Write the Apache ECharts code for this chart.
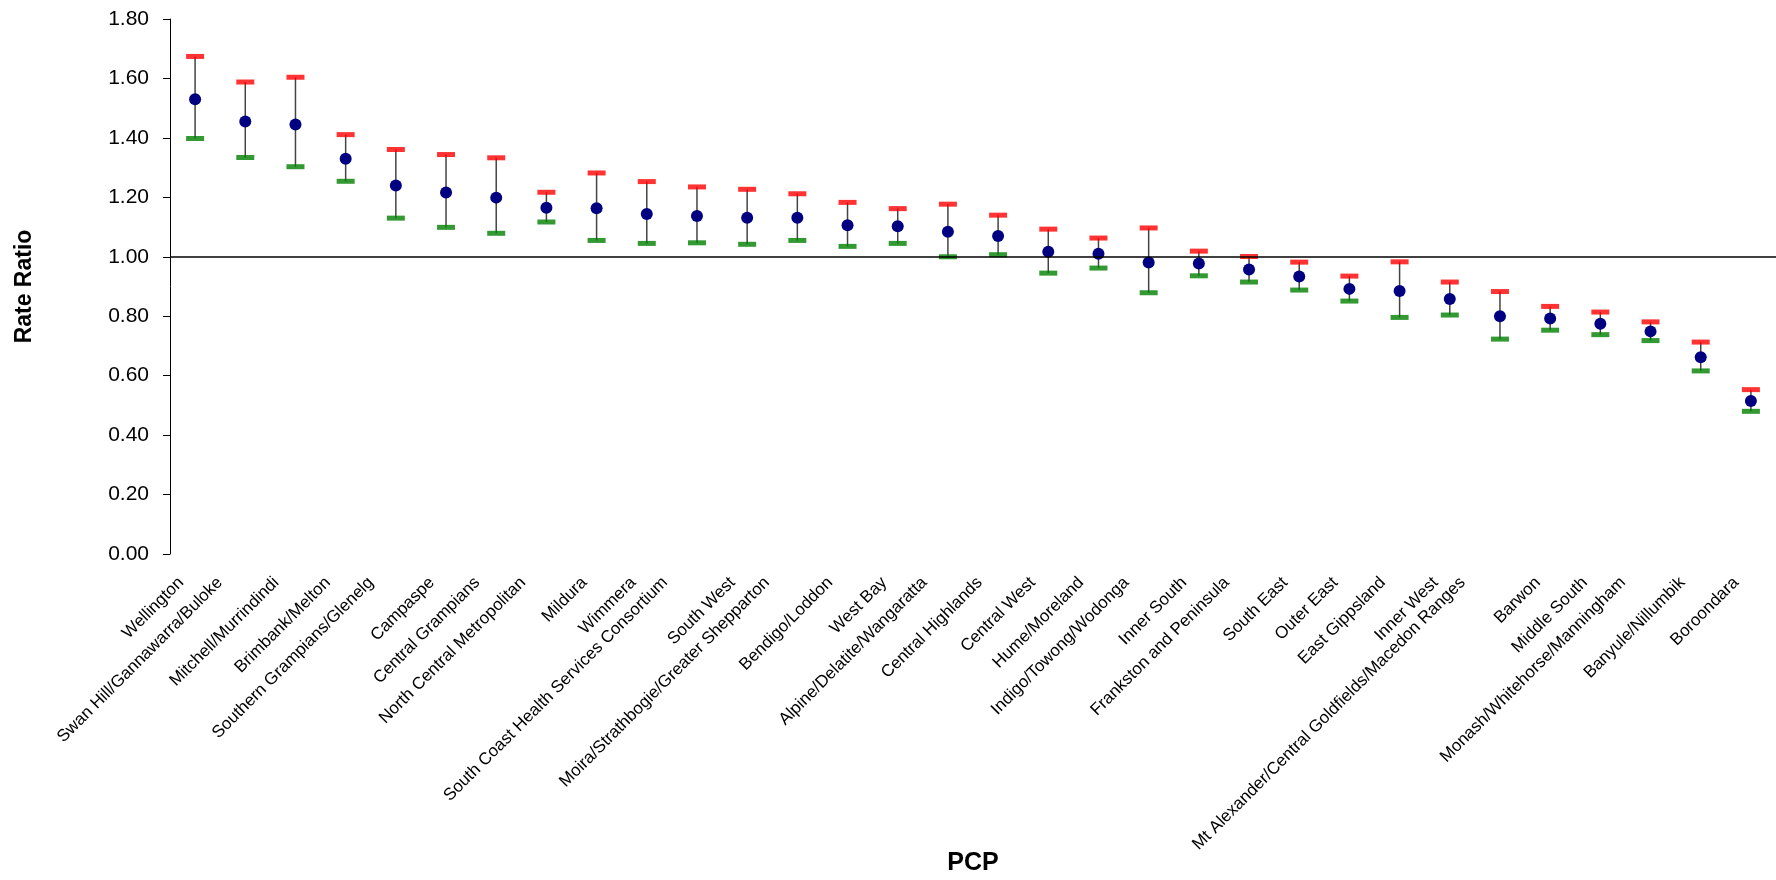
<!DOCTYPE html>
<html>
<head>
<meta charset="utf-8">
<title>Rate Ratio by PCP</title>
<script src="https://cdn.jsdelivr.net/npm/echarts@6/dist/echarts.min.js"></script>
<style>
  html, body { margin: 0; padding: 0; background: #fff; }
  #chart { width: 1776px; height: 880px; }
</style>
</head>
<body>
<div id="chart"></div>
<script>
// Primary care partnerships, ordered by rate ratio
const categories = [
  'Wellington', 'Swan Hill/Gannawarra/Buloke', 'Mitchell/Murrindindi', 'Brimbank/Melton',
  'Southern Grampians/Glenelg', 'Campaspe', 'Central Grampians', 'North Central Metropolitan',
  'Mildura', 'Wimmera', 'South Coast Health Services Consortium', 'South West',
  'Moira/Strathbogie/Greater Shepparton', 'Bendigo/Loddon', 'West Bay', 'Alpine/Delatite/Wangaratta',
  'Central Highlands', 'Central West', 'Hume/Moreland', 'Indigo/Towong/Wodonga',
  'Inner South', 'Frankston and Peninsula', 'South East', 'Outer East',
  'East Gippsland', 'Inner West', 'Mt Alexander/Central Goldfields/Macedon Ranges', 'Barwon',
  'Middle South', 'Monash/Whitehorse/Manningham', 'Banyule/Nillumbik', 'Boroondara'
];

// Point estimate of the rate ratio
const rateRatio = [
  1.53, 1.455, 1.445, 1.33, 1.24, 1.216, 1.199, 1.165,
  1.163, 1.144, 1.137, 1.131, 1.131, 1.106, 1.103, 1.084,
  1.070, 1.017, 1.010, 0.981, 0.977, 0.957, 0.934, 0.892,
  0.885, 0.858, 0.800, 0.792, 0.775, 0.749, 0.662, 0.515
];

// Upper 95% confidence limit
const upperCI = [
  1.674, 1.588, 1.604, 1.411, 1.361, 1.344, 1.333, 1.217,
  1.282, 1.253, 1.235, 1.227, 1.212, 1.183, 1.162, 1.177,
  1.140, 1.093, 1.063, 1.097, 1.019, 1.001, 0.982, 0.935,
  0.983, 0.915, 0.883, 0.833, 0.814, 0.781, 0.713, 0.553
];

// Lower 95% confidence limit
const lowerCI = [
  1.398, 1.334, 1.303, 1.254, 1.130, 1.099, 1.079, 1.117,
  1.055, 1.045, 1.047, 1.042, 1.055, 1.035, 1.045, 1.000,
  1.007, 0.945, 0.962, 0.879, 0.936, 0.915, 0.888, 0.851,
  0.796, 0.804, 0.723, 0.753, 0.738, 0.718, 0.616, 0.480
];

const yTicks = { min: 0, max: 1.8, interval: 0.2 };

const FONT = "'Liberation Sans', Arial, Helvetica, sans-serif";
const CAT_FONT_SIZE = 17;
const CAT_LABEL_MARGIN = 24;

// Slanted category labels: longer names sit further left of their tick.
// Each label is moved back along its baseline (right padding) and up
// across it (bottom alignment with a line height), based on its width.
const measureCtx = document.createElement('canvas').getContext('2d');
measureCtx.font = CAT_FONT_SIZE + "px 'Liberation Sans', Arial, sans-serif";
const categoryItems = categories.map(name => {
  const w = measureCtx.measureText(name).width;
  const sx = -7.8 - 0.078 * w;          // horizontal offset of the label end
  const sy = 26 - CAT_LABEL_MARGIN;     // vertical offset beyond the margin
  const along = Math.max(0, (sy - sx) / Math.SQRT2);
  const across = Math.max(0.5, -(sx + sy) / Math.SQRT2);
  return {
    value: name,
    textStyle: {
      verticalAlign: 'bottom',
      lineHeight: 2 * across,
      padding: [0, along, 0, 0]
    }
  };
});

const chart = echarts.init(document.getElementById('chart'), null, { renderer: 'canvas' });

const whiskerData = categories.map((c, i) => [i, lowerCI[i], upperCI[i]]);

chart.setOption({
  animation: false,
  backgroundColor: '#ffffff',
  grid: {
    left: 170, right: 0, top: 19, bottom: 326,
    containLabel: false,
    outerBoundsMode: 'none'
  },
  xAxis: {
    type: 'category',
    data: categoryItems,
    boundaryGap: true,
    name: 'PCP',
    nameLocation: 'middle',
    nameGap: 297,
    nameMoveOverlap: false,
    nameTextStyle: { fontFamily: FONT, fontWeight: 'bold', fontSize: 25, color: '#000', letterSpacing: 4 },
    axisLine: { show: false },
    axisTick: { show: false },
    splitLine: { show: false },
    axisLabel: {
      interval: 0,
      rotate: 45,
      margin: CAT_LABEL_MARGIN,
      fontFamily: FONT,
      fontSize: CAT_FONT_SIZE,
      color: '#000'
    }
  },
  yAxis: {
    type: 'value',
    min: yTicks.min,
    max: yTicks.max,
    interval: yTicks.interval,
    name: 'Rate Ratio',
    nameLocation: 'middle',
    nameGap: 134,
    nameMoveOverlap: false,
    nameTextStyle: { fontFamily: FONT, fontWeight: 'bold', fontSize: 23, color: '#000' },
    axisLine: { show: true, lineStyle: { color: '#000', width: 1 } },
    axisTick: { show: true, inside: false, length: 7, lineStyle: { color: '#000', width: 1 } },
    splitLine: { show: false },
    axisLabel: {
      margin: 21,
      fontFamily: FONT,
      fontSize: 21,
      color: '#000',
      formatter: v => v.toFixed(2)
    }
  },
  series: [
    {
      name: 'CI',
      type: 'custom',
      data: whiskerData,
      z: 1,
      renderItem: (params, api) => {
        const idx = api.value(0);
        const lo = api.coord([idx, api.value(1)]);
        const hi = api.coord([idx, api.value(2)]);
        return {
          type: 'line',
          shape: { x1: lo[0], y1: lo[1], x2: hi[0], y2: hi[1] },
          style: { stroke: '#444', lineWidth: 1.5 }
        };
      },
      markLine: {
        silent: true,
        symbol: 'none',
        label: { show: false },
        lineStyle: { color: '#000', width: 1.5, type: 'solid' },
        data: [{ yAxis: 1 }]
      }
    },
    {
      name: 'Upper',
      type: 'scatter',
      data: upperCI,
      symbol: 'rect',
      symbolSize: [18, 5],
      z: 3,
      itemStyle: { color: '#ff0000' }
    },
    {
      name: 'Lower',
      type: 'scatter',
      data: lowerCI,
      symbol: 'rect',
      symbolSize: [18, 5],
      z: 3,
      itemStyle: { color: '#008000' }
    },
    {
      name: 'Rate Ratio',
      type: 'scatter',
      data: rateRatio,
      symbol: 'circle',
      symbolSize: 12,
      z: 4,
      itemStyle: { color: '#000080', opacity: 1 }
    }
  ]
});
</script>
</body>
</html>
